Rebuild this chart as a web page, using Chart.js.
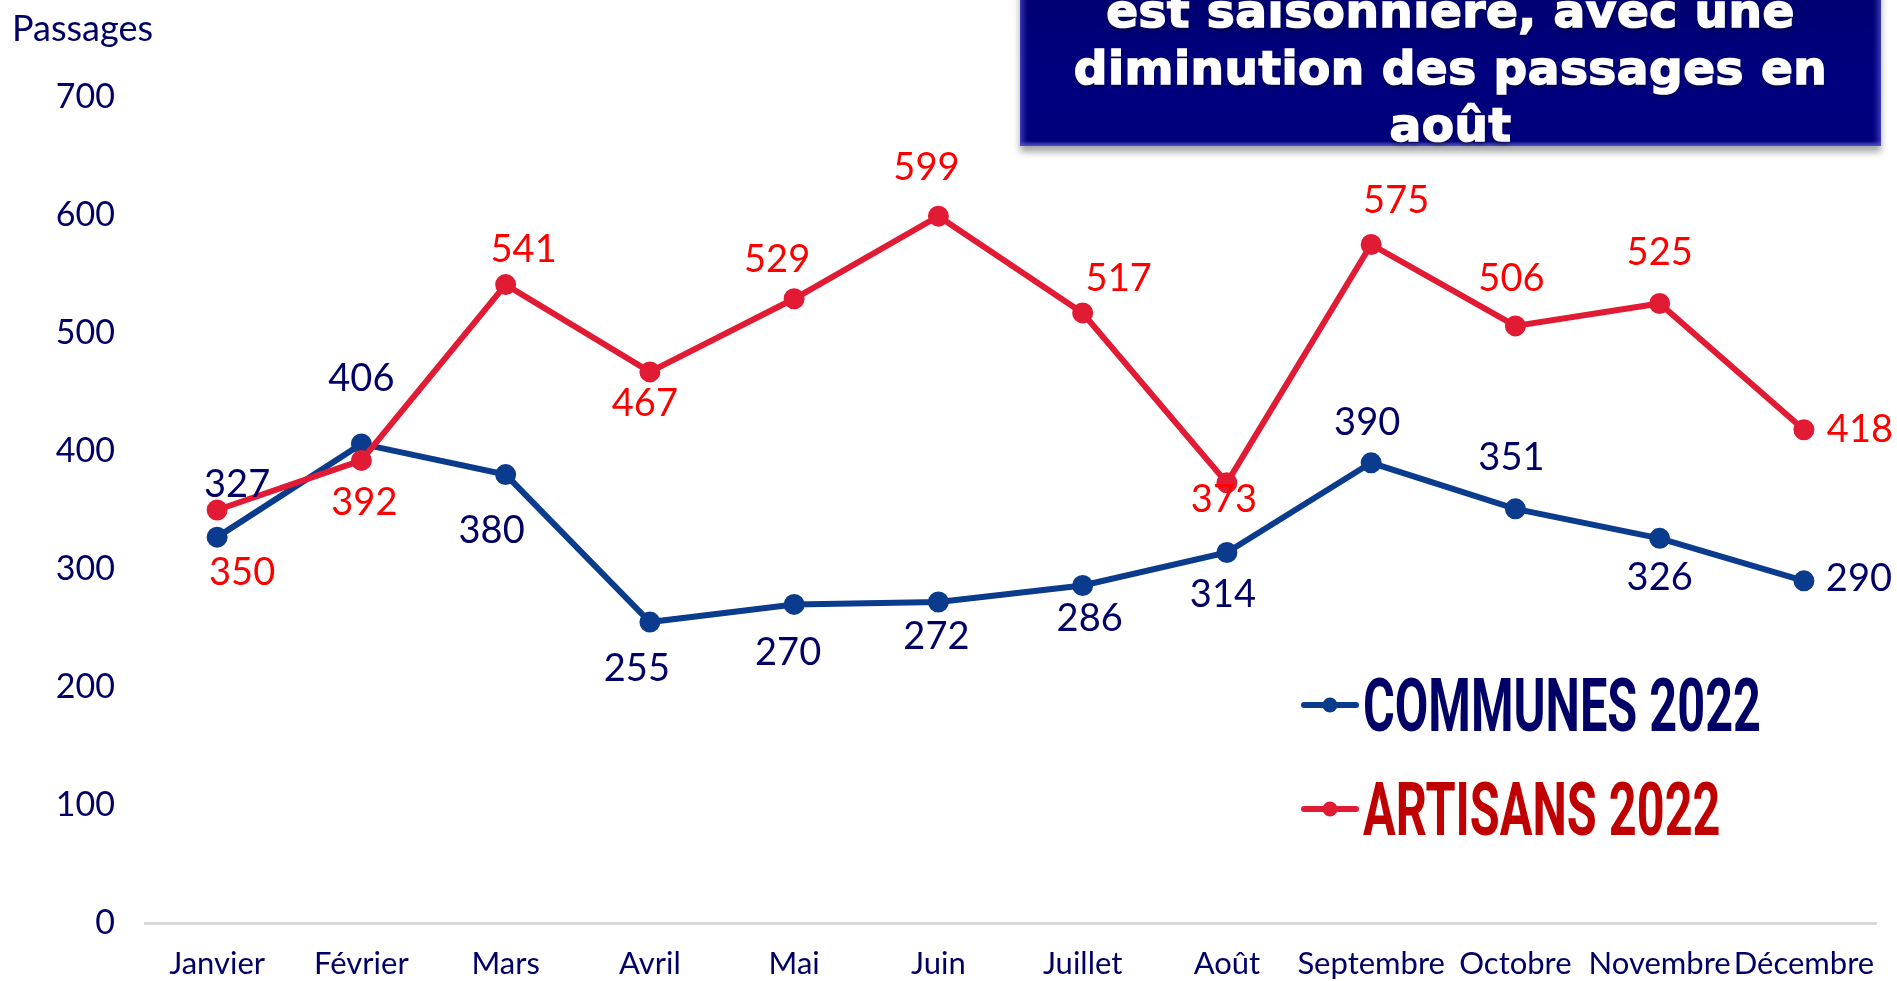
<!DOCTYPE html>
<html lang="fr">
<head>
<meta charset="utf-8">
<title>Passages 2022</title>
<script src="https://cdn.jsdelivr.net/npm/chart.js@4.4.0/dist/chart.umd.min.js"></script>
<style>
  html, body { margin: 0; padding: 0; background: #ffffff; overflow: hidden; }
  #wrap { position: relative; width: 1897px; height: 981px; }
  #chart { position: absolute; left: 0; top: 0; }
  #headline {
    position: absolute;
    left: 1020px; top: -18px; width: 861px; height: 164px;
    box-sizing: border-box;
    background: linear-gradient(180deg, #00006e 0%, #000080 60%, #00007a 100%);
    box-shadow: inset 4px 0 5px rgba(90, 90, 220, 0.55),
                inset -4px 0 5px rgba(90, 90, 220, 0.55),
                inset 0 -3px 3px rgba(120, 120, 230, 0.5),
                0 6px 7px rgba(0, 0, 0, 0.35);
    color: #ffffff;
    font-family: "DejaVu Sans", Lato, sans-serif;
    font-weight: bold;
    font-size: 47px;
    line-height: 57px;
    letter-spacing: 0.5px;
    text-align: center;
    -webkit-text-stroke: 1.6px #ffffff;
    text-shadow: 0 3px 4px rgba(0, 0, 0, 0.45);
    white-space: nowrap;
  }
</style>
</head>
<body>
<div id="wrap">
  <canvas id="chart" width="1897" height="981"></canvas>
  <div id="headline">est saisonnière, avec une<br>diminution des passages en<br>août</div>
</div>
<script>
// Monthly visits, 2022
const months = ['Janvier', 'Février', 'Mars', 'Avril', 'Mai', 'Juin', 'Juillet', 'Août', 'Septembre', 'Octobre', 'Novembre', 'Décembre'];
const communes2022 = [327, 406, 380, 255, 270, 272, 286, 314, 390, 351, 326, 290];
const artisans2022 = [350, 392, 541, 467, 529, 599, 517, 373, 575, 506, 525, 418];
const seriesNames = ['COMMUNES 2022', 'ARTISANS 2022'];
const yAxisTitle = 'Passages';
const yMax = 700;
const yStep = 100;

// Hand placement of each value label relative to its point (px)
const communesLabelShift = [[20, -52], [0, -65], [-14, 56], [-13, 47], [-6, 48], [-2, 35], [7, 33], [-4, 42], [-4, -40], [-4, -51], [0, 39], [55, -2]];
const artisansLabelShift = [[25, 63], [3, 42], [18, -35], [-5, 32], [-17, -39], [-12, -48], [36, -34], [-3, 17], [25, -44], [-4, -47], [0, -51], [56, 0]];

const NAVY_TEXT = '#000066';
const BLUE_LINE = '#0b3b8c';
const RED_LINE = '#e21b35';

const valueLabels = {
  id: 'valueLabels',
  afterDatasetsDraw(chart) {
    const ctx = chart.ctx;
    ctx.save();
    ctx.font = '38px Lato, "Open Sans", sans-serif';
    ctx.textAlign = 'center';
    ctx.textBaseline = 'middle';
    chart.data.datasets.forEach((ds, i) => {
      const meta = chart.getDatasetMeta(i);
      ctx.fillStyle = ds.labelColor;
      meta.data.forEach((pt, j) => {
        const s = ds.labelShift[j];
        ctx.fillText(String(ds.data[j]), pt.x + s[0], pt.y + s[1]);
      });
    });
    ctx.restore();
  }
};

const sideTexts = {
  id: 'sideTexts',
  afterDraw(chart) {
    const ctx = chart.ctx;
    ctx.save();
    // axis caption
    ctx.fillStyle = NAVY_TEXT;
    ctx.font = '36px Lato, "Open Sans", sans-serif';
    ctx.textAlign = 'left';
    ctx.textBaseline = 'alphabetic';
    ctx.fillText(yAxisTitle, 12, 41);

    // legend: condensed lettering, squeezed horizontally
    const legendFont = 'bold 74px Roboto, "DejaVu Sans", sans-serif';
    ctx.font = legendFont;
    const squeeze = 398 / ctx.measureText(chart.data.datasets[0].label).width;
    const rows = [705, 809];
    chart.data.datasets.forEach((ds, i) => {
      const y = rows[i];
      ctx.strokeStyle = ds.borderColor;
      ctx.lineWidth = 6;
      ctx.lineCap = 'round';
      ctx.beginPath();
      ctx.moveTo(1304, y);
      ctx.lineTo(1356, y);
      ctx.stroke();
      ctx.fillStyle = ds.borderColor;
      ctx.beginPath();
      ctx.arc(1330, y, 7.5, 0, Math.PI * 2);
      ctx.fill();

      ctx.save();
      ctx.translate(1363, y + 26);
      ctx.scale(squeeze, 1);
      ctx.font = legendFont;
      ctx.textAlign = 'left';
      ctx.textBaseline = 'alphabetic';
      ctx.fillStyle = ds.legendColor;
      ctx.fillText(ds.label, 0, 0);
      ctx.restore();
    });
    ctx.restore();
  }
};

new Chart(document.getElementById('chart'), {
  type: 'line',
  data: {
    labels: months,
    datasets: [
      {
        label: seriesNames[0],
        data: communes2022,
        borderColor: BLUE_LINE,
        backgroundColor: BLUE_LINE,
        pointBackgroundColor: BLUE_LINE,
        pointBorderColor: BLUE_LINE,
        borderWidth: 6,
        pointRadius: 7.5,
        tension: 0,
        order: 1,
        labelColor: NAVY_TEXT,
        legendColor: NAVY_TEXT,
        labelShift: communesLabelShift
      },
      {
        label: seriesNames[1],
        data: artisans2022,
        borderColor: RED_LINE,
        backgroundColor: RED_LINE,
        pointBackgroundColor: RED_LINE,
        pointBorderColor: RED_LINE,
        borderWidth: 6,
        pointRadius: 7.5,
        tension: 0,
        order: 0,
        labelColor: '#ff0000',
        legendColor: '#c00000',
        labelShift: artisansLabelShift
      }
    ]
  },
  options: {
    responsive: false,
    animation: false,
    events: [],
    layout: { padding: { top: 97, right: 20, left: 0, bottom: 0 } },
    plugins: {
      legend: { display: false },
      tooltip: { enabled: false },
      title: { display: false }
    },
    scales: {
      x: {
        offset: true,
        grid: { display: false, drawTicks: false },
        border: { display: true, color: '#d9d9d9', width: 3 },
        ticks: {
          color: NAVY_TEXT,
          font: { family: 'Lato, "Open Sans", sans-serif', size: 31 },
          padding: 22,
          maxRotation: 0,
          autoSkip: false
        },
        afterFit(scale) { scale.height = 58; }
      },
      y: {
        min: 0,
        max: yMax,
        grid: { display: false, drawTicks: false },
        border: { display: false },
        ticks: {
          stepSize: yStep,
          color: NAVY_TEXT,
          font: { family: 'Lato, "Open Sans", sans-serif', size: 34 },
          padding: 30
        },
        afterFit(scale) { scale.width = 145; }
      }
    }
  },
  plugins: [valueLabels, sideTexts]
});
</script>
</body>
</html>
